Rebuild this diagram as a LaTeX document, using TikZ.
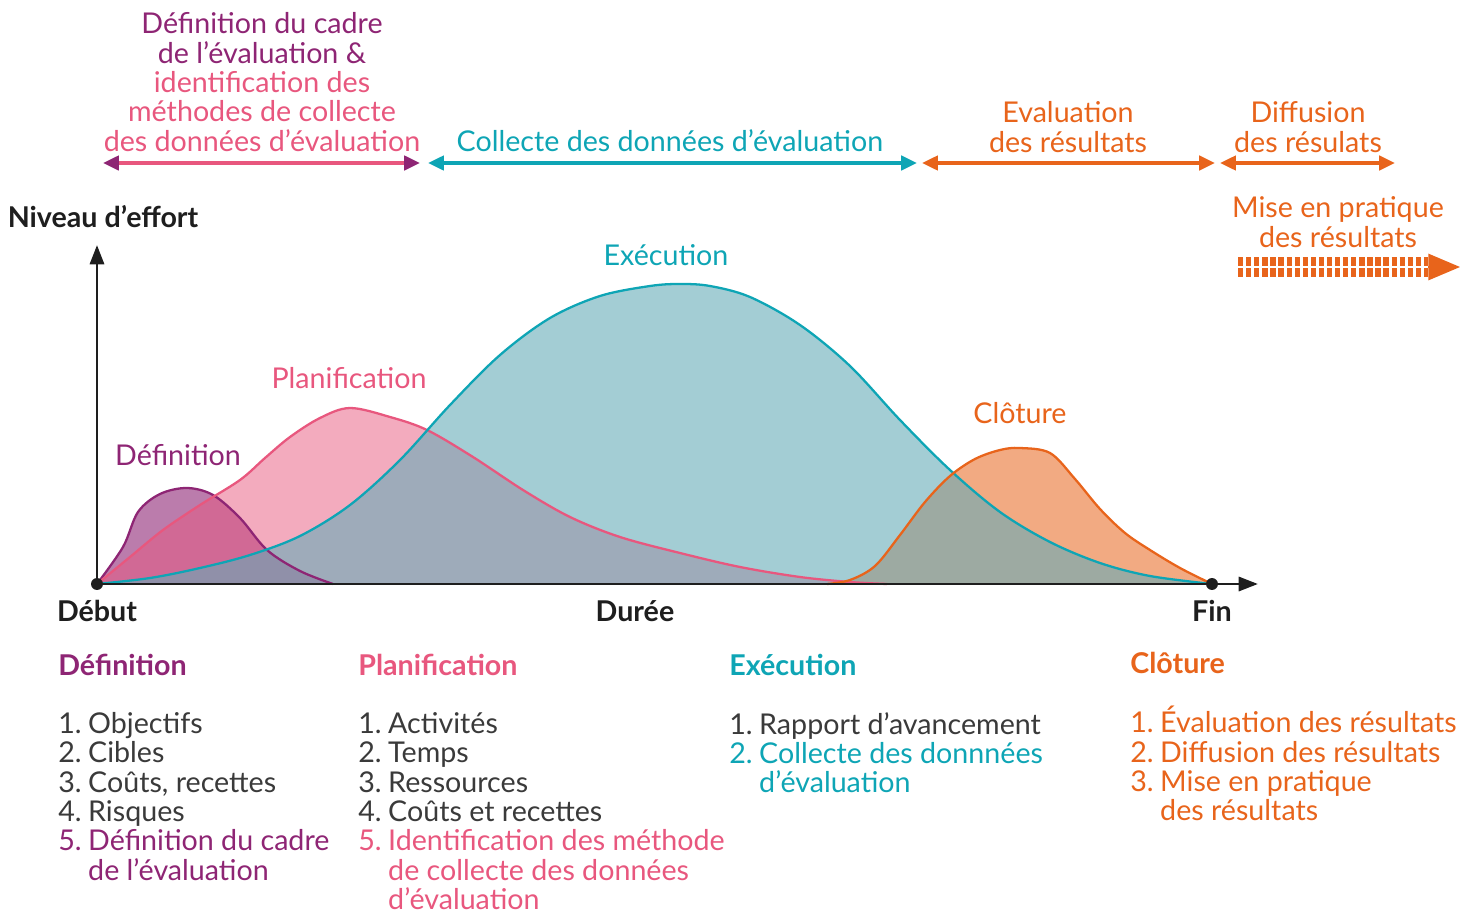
\documentclass[tikz,border=0pt]{standalone}
\usepackage{fontspec}
\setmainfont{Lato}
\usetikzlibrary{arrows.meta,positioning}
\definecolor{defviolet}{HTML}{8E2574}
\definecolor{planrose}{HTML}{E8577E}
\definecolor{exebleu}{HTML}{0EA5B5}
\definecolor{exefond}{HTML}{66ABB8}
\definecolor{clotorange}{HTML}{E8641B}
\definecolor{encre}{HTML}{1E1E1E}
\definecolor{liste}{HTML}{3A3A3A}
\newcommand{\num}[1]{\makebox[17pt][l]{#1}}
\newcommand{\ind}{\hspace*{17pt}}
\newcommand{\courbedef}{(97,584) (123,547) (138,512) (160,494) (187,488) (213,495) (240,518) (267,550) (300,571) (333,584)}
\newcommand{\courbeplan}{(97,584) (130,557) (163,530) (200,505) (240,480) (265,458) (290,437) (320,418) (350,408) (390,417) (427,430) (473,457) (523,490) (570,517) (620,537) (680,553) (740,567) (800,577) (850,582) (887,584)}
\newcommand{\courbeexe}{(97,584) (150,578) (200,568) (250,555) (300,536) (350,505) (400,460) (450,405) (500,355) (550,318) (600,296) (650,286) (680,284) (710,286) (750,297) (800,325) (850,366) (900,420) (950,470) (1000,512) (1050,542) (1100,563) (1150,576) (1212,584)}
\newcommand{\courbeclot}{(827,584) (850,580) (875,566) (900,535) (925,502) (950,476) (975,459) (1000,450) (1020,448) (1050,453) (1075,479) (1100,509) (1125,533) (1150,550) (1180,568) (1212,584)}

\begin{document}
\begin{tikzpicture}[
      x=0.02cm, y=-0.02cm,
      txt/.style={font=\fontsize{16.3}{16.7}\selectfont, align=center, inner sep=0pt},
      gras/.style={txt, font=\fontsize{16.3}{16.7}\selectfont\bfseries, text=encre},
      titre/.style={font=\fontsize{16.3}{16.7}\selectfont\bfseries, anchor=base west, inner sep=0pt},
      liste/.style={font=\fontsize{16.3}{16.7}\selectfont, align=left, anchor=north west, inner sep=0pt, text=liste},
      axe/.style={line width=1.7pt, color=encre, -{Triangle[length=11pt, width=8pt]}},
      phase/.style={{Triangle[length=9pt, width=8pt]}-{Triangle[length=9pt, width=8pt]}, line width=2.2pt},
      courbe/.style={line width=1.3pt},
      lisse/.style={smooth, tension=0.55}
    ]
      \useasboundingbox (0,0) rectangle (1478,916);
      % axes
      \coordinate (orig) at (97,584);
      \coordinate (haut) at (97,245);
      \coordinate (droite) at (1258,584);
      \coordinate (fin) at (1212,584);
      % remplissages
      \fill[defviolet, fill opacity=0.6] plot[lisse] coordinates {\courbedef} -- cycle;
      \fill[clotorange, fill opacity=0.55] plot[lisse] coordinates {\courbeclot} -- cycle;
      \fill[planrose, fill opacity=0.5] plot[lisse] coordinates {\courbeplan} -- cycle;
      \fill[exefond, fill opacity=0.6] plot[lisse] coordinates {\courbeexe} -- cycle;
      % contours
      \draw[courbe, defviolet] plot[lisse] coordinates {\courbedef};
      \draw[courbe, planrose] plot[lisse] coordinates {\courbeplan};
      \draw[courbe, exebleu] plot[lisse] coordinates {\courbeexe};
      \draw[courbe, clotorange] plot[lisse] coordinates {\courbeclot};
      \draw[axe] (orig) -- (haut);
      \draw[axe] (orig) -- (droite);
      \fill[encre] (orig) circle (3.4pt);
      \fill[encre] (fin) circle (3.4pt);
      % etiquettes des axes
      \node[gras] (effort) at (103,217) {Niveau d’effort};
      \node[gras] (debut) at (97,611) {Début};
      \node[gras] (duree) at (635,611) {Durée};
      \node[gras] (lafin) at (1212,611) {Fin};
      % noms des courbes
      \node[txt, text=defviolet] (ndef) at (178,455) {Définition};
      \node[txt, text=planrose] (nplan) at (349,378) {Planification};
      \node[txt, text=exebleu] (nexe) at (666,255) {Exécution};
      \node[txt, text=clotorange] (nclot) at (1020,413) {Clôture};
      % phases du haut
      \node[txt] (cadre) at (262,82) {\textcolor{defviolet}{Définition du cadre}\\\textcolor{defviolet}{de l’évaluation \&}\\\textcolor{planrose}{identification des}\\\textcolor{planrose}{méthodes de collecte}\\\textcolor{planrose}{des données d’évaluation}};
      \node[txt, text=exebleu] (collecte) at (670,141) {Collecte des données d’évaluation};
      \node[txt, text=clotorange] (evalres) at (1068,127) {Evaluation\\des résultats};
      \node[txt, text=clotorange] (diffres) at (1308,127) {Diffusion\\des résulats};
      \node[txt, text=clotorange] (miseres) at (1338,222) {Mise en pratique\\des résultats};
      \coordinate (a1) at (103,163); \coordinate (a2) at (420,163);
      \coordinate (b1) at (428,163); \coordinate (b2) at (917,163);
      \coordinate (c1) at (922,163); \coordinate (c2) at (1215,163);
      \coordinate (d1) at (1220,163); \coordinate (d2) at (1395,163);
      \coordinate (m1) at (1238,267); \coordinate (m2) at (1428,267); \coordinate (m3) at (1460,267);
      \draw[line width=2.2pt, planrose, {Triangle[length=9pt, width=8pt, color=defviolet]}-{Triangle[length=9pt, width=8pt, color=defviolet]}] (a1) -- (a2);
      \draw[phase, exebleu] (b1) -- (b2);
      \draw[phase, clotorange] (c1) -- (c2);
      \draw[phase, clotorange] (d1) -- (d2);
      \draw[clotorange, line width=5pt, double=white, double distance=1.4pt, dash pattern=on 3pt off 1.6pt] (m1) -- (m2);
      \draw[clotorange, line width=1pt, -{Triangle[length=18pt, width=15pt]}] (m2) -- (m3);
      % listes
      \node[titre, text=defviolet] (tdef) at (58,675) {Définition};
      \node[titre, text=planrose] (tplan) at (358,675) {Planification};
      \node[titre, text=exebleu] (texe) at (729,675) {Exécution};
      \node[titre, text=clotorange] (tclot) at (1130,673) {Clôture};
      \node[liste] (ldef) at (58,712) {\num{1.}Objectifs\\\num{2.}Cibles\\\num{3.}Coûts, recettes\\\num{4.}Risques\\\textcolor{defviolet}{\num{5.}Définition du cadre}\\\textcolor{defviolet}{\ind de l’évaluation}};
      \node[liste] (lplan) at (358,712) {\num{1.}Activités\\\num{2.}Temps\\\num{3.}Ressources\\\num{4.}Coûts et recettes\\\textcolor{planrose}{\num{5.}Identification des méthode}\\\textcolor{planrose}{\ind de collecte des données}\\\textcolor{planrose}{\ind d’évaluation}};
      \node[liste] (lexe) at (729,712) {\num{1.}Rapport d’avancement\\\textcolor{exebleu}{\num{2.}Collecte des donnnées}\\\textcolor{exebleu}{\ind d’évaluation}};
      \node[liste, text=clotorange] (lclot) at (1130,706) {\num{1.}Évaluation des résultats\\\num{2.}Diffusion des résultats\\\num{3.}Mise en pratique\\\ind des résultats};
    \end{tikzpicture}
\end{document}
